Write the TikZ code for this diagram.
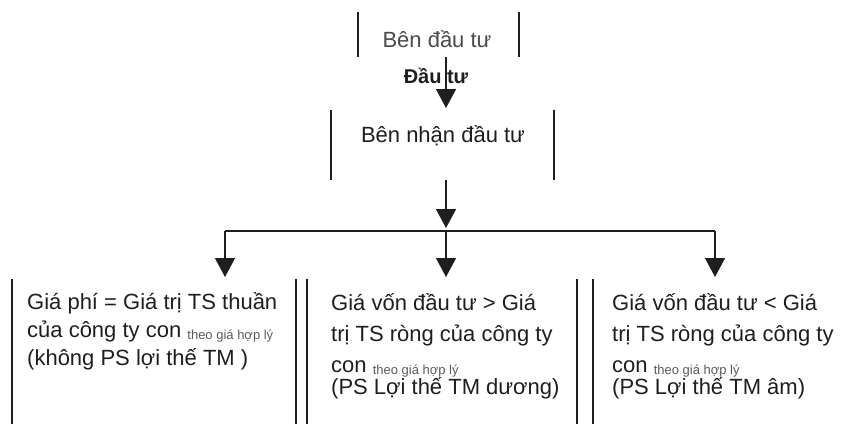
\documentclass[tikz,border=0pt]{standalone}
\usepackage{fontspec}
\setmainfont{Liberation Sans}
\usetikzlibrary{arrows.meta}

\definecolor{ink}{HTML}{1E1E1E}
\definecolor{softink}{HTML}{4A4A4A}
\definecolor{subink}{HTML}{5A5A5A}

% small lowered note after "con"
\newcommand\fairval{{\fontsize{13}{13}\selectfont\color{subink}\raisebox{-2pt}{theo giá hợp lý}}}

\tikzset{
  bar/.style={line width=1.6pt, draw=ink},
  link/.style={line width=1.3pt, draw=ink},
  arr/.style={link, -{Triangle[width=20pt,length=19pt]}, shorten >=2pt},
  boxn/.style={draw=none, inner sep=0pt, outer sep=0pt},
  maintext/.style={font=\fontsize{22}{28}\selectfont, text=ink, inner sep=0pt},
  blocktext/.style={maintext, align=left, anchor=north west},
}

\begin{document}
\begin{tikzpicture}[x=1pt,y=-1pt]
\useasboundingbox (0,0) rectangle (854,423);

% --- top: investor
\node[boxn, minimum width=161pt, minimum height=45pt] (investor) at (438.5,34.5) {};
\node[maintext, text=softink, anchor=base] (investortext) at (437,47) {Bên đầu tư};
\draw[bar] (investor.north west) -- (investor.south west)
           (investor.north east) -- (investor.south east);

% --- middle: receiver
\node[boxn, minimum width=223pt, minimum height=70pt] (receiver) at (442.5,145) {};
\node[maintext, anchor=base] (receivertext) at (443,142) {Bên nhận đầu tư};
\draw[bar] (receiver.north west) -- (receiver.south west)
           (receiver.north east) -- (receiver.south east);

% --- bottom: three cases
\node[boxn, minimum width=284pt, minimum height=148pt, anchor=north west] (nogw) at (12,279) {};
\node[boxn, minimum width=270pt, minimum height=148pt, anchor=north west] (posgw) at (307,279) {};
\node[boxn, minimum width=270pt, minimum height=148pt, anchor=north west] (neggw) at (593,279) {};
\draw[bar] (nogw.north west) -- (nogw.south west)
           (nogw.north east) -- (nogw.south east)
           (posgw.north west) -- (posgw.south west)
           (posgw.north east) -- (posgw.south east)
           (neggw.north west) -- (neggw.south west);

\node[blocktext] (nogwtext) at (27,292)
  {Giá phí = Giá trị TS thuần\\
   của công ty con \fairval\\
   (không PS lợi thế TM )};
\node[blocktext] (posgwtext) at (331,293)
  {Giá vốn đầu tư > Giá\\[3pt]
   trị TS ròng của công ty\\[3pt]
   con \fairval\\[-6pt]
   (PS Lợi thế TM dương)};
\node[blocktext] (neggwtext) at (612,293)
  {Giá vốn đầu tư < Giá\\[3pt]
   trị TS ròng của công ty\\[3pt]
   con \fairval\\[-6pt]
   (PS Lợi thế TM âm)};

% --- connectors
\coordinate (spine) at (446,0);
\coordinate (busL) at (225,231);
\coordinate (busM) at (446,231);
\coordinate (busR) at (715,231);

\node[font=\fontsize{20}{20}\selectfont\bfseries, text=ink, inner sep=0pt, anchor=base]
  (flowlabel) at (436,83) {Đầu tư};

\draw[arr] (investor.south -| spine) -- (receiver.north -| spine);
\draw[arr, shorten >=3pt] (receiver.south -| spine) -- (busM);
\draw[link] (busL) -- (busR);
\draw[arr] (busL) -- (busL |- nogw.north);
\draw[arr] (busM) -- (busM |- posgw.north);
\draw[arr] (busR) -- (busR |- neggw.north);
\end{tikzpicture}
\end{document}
